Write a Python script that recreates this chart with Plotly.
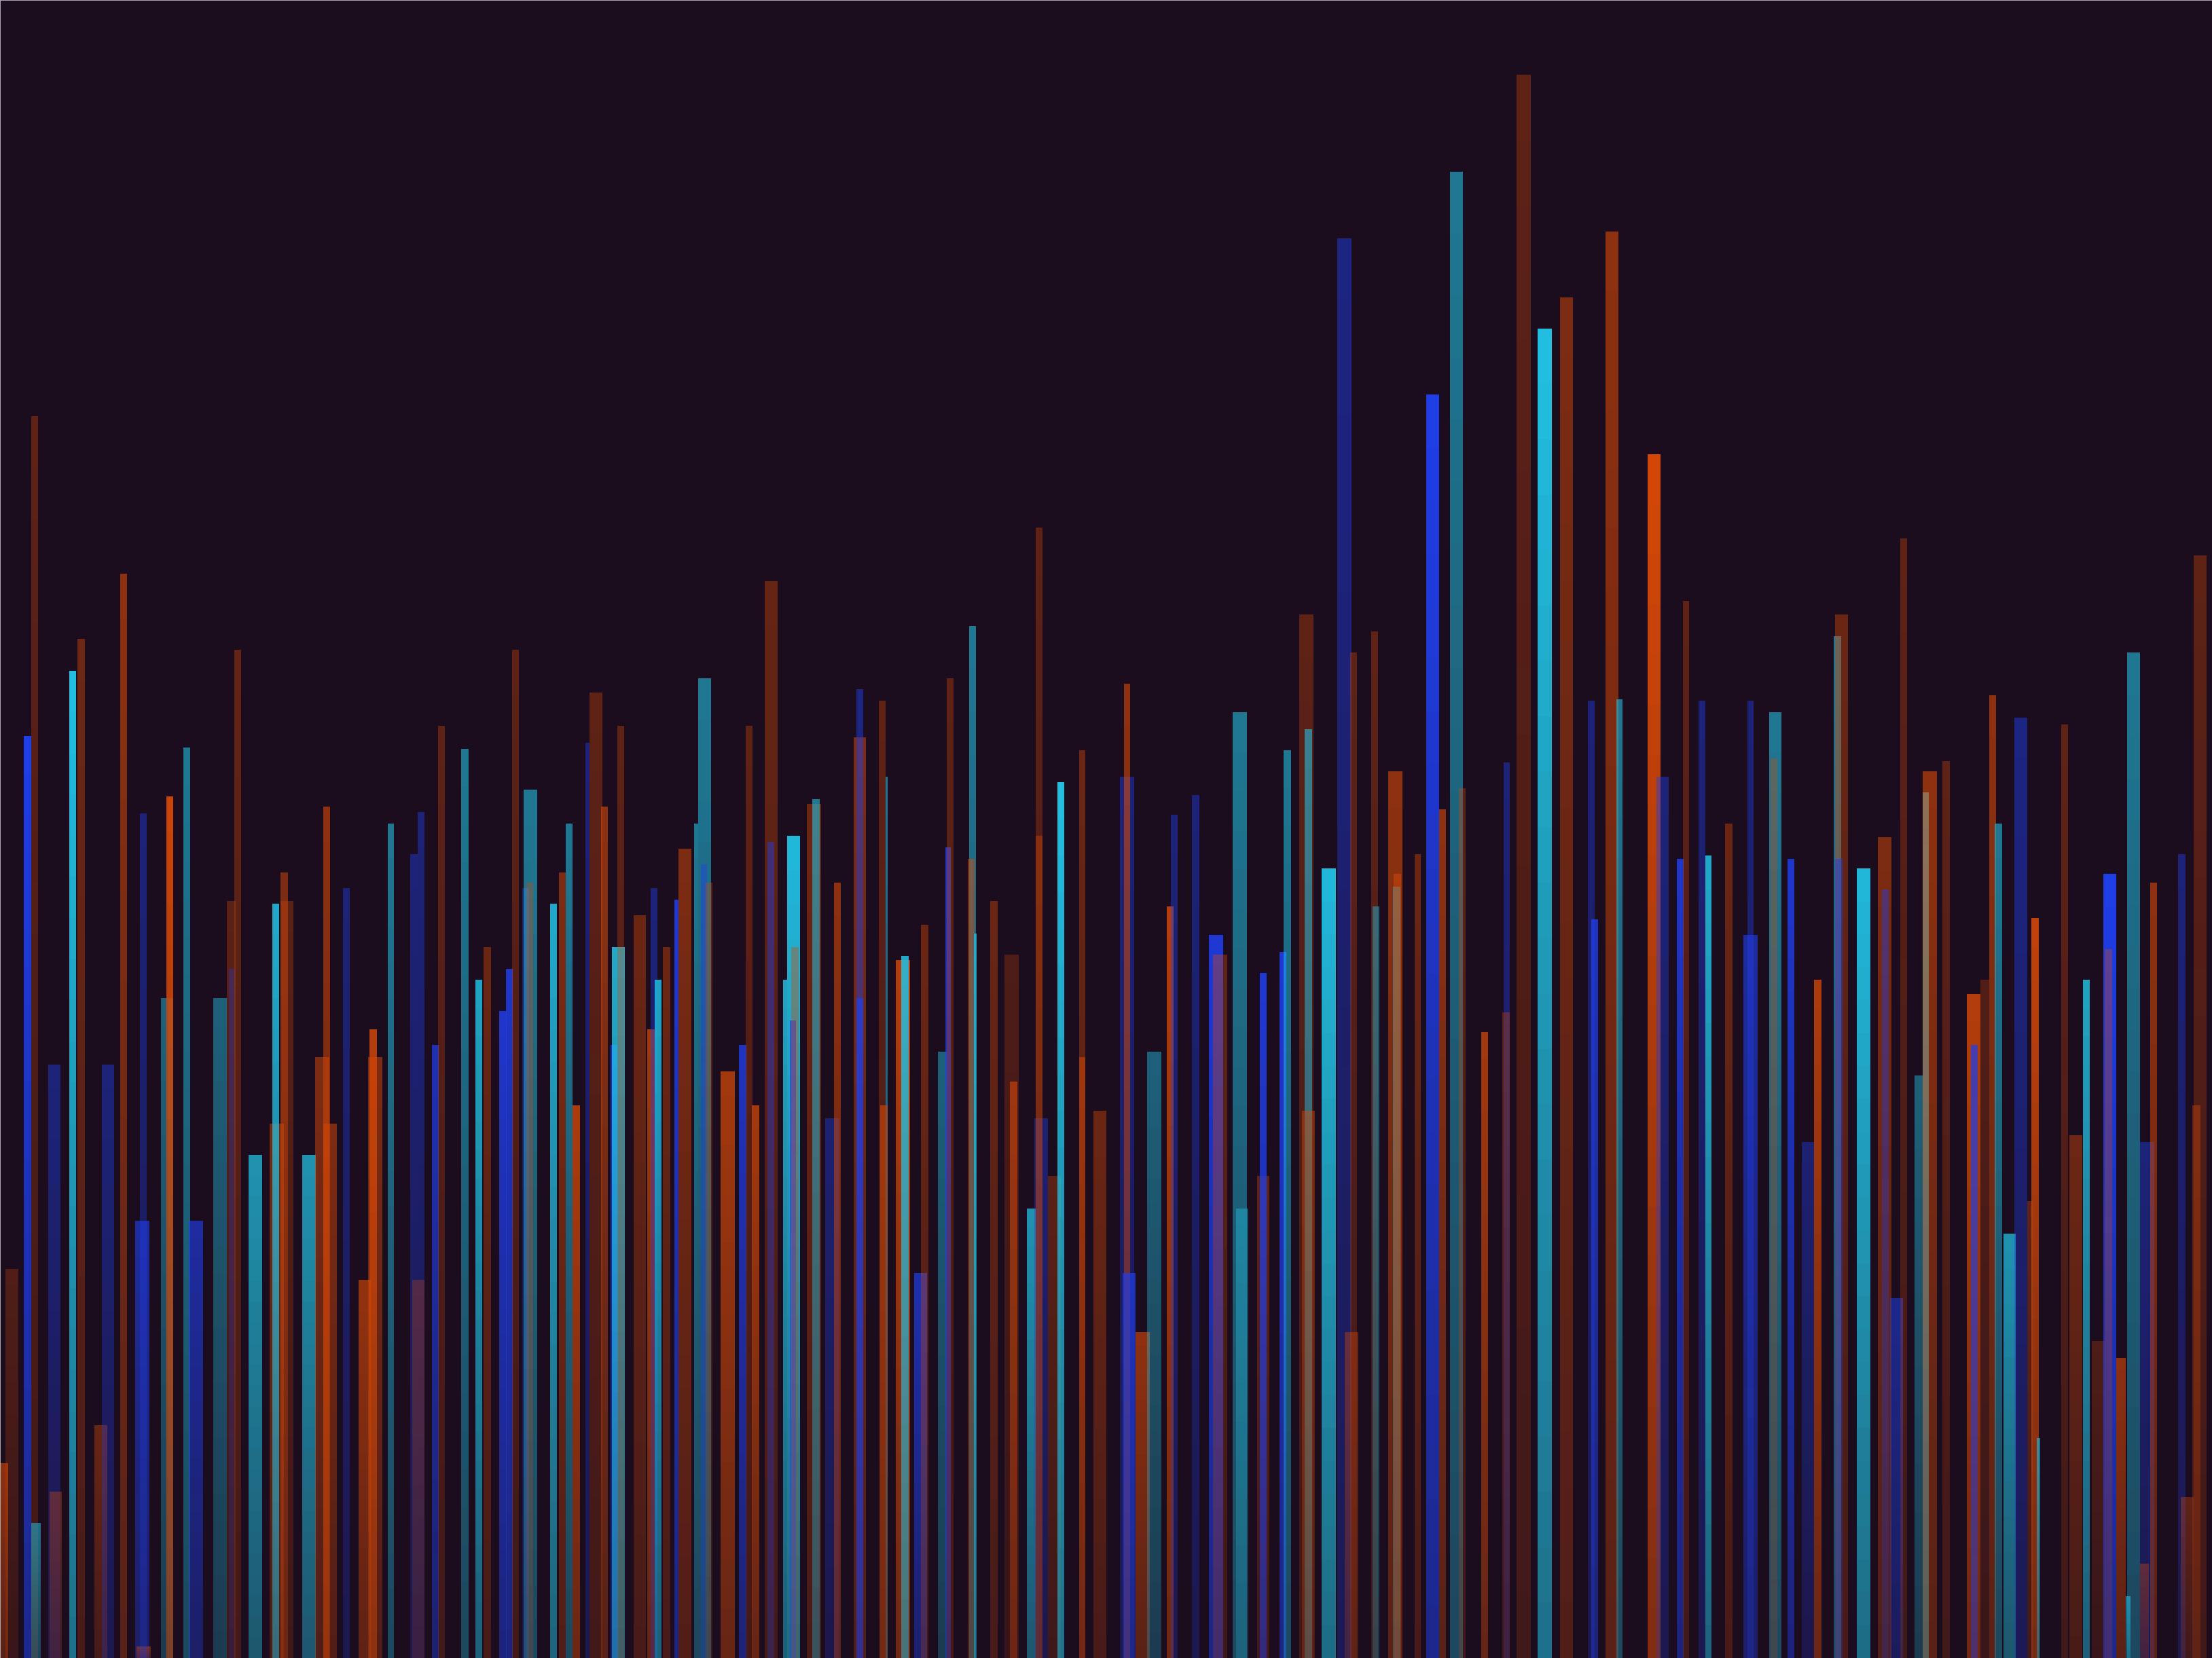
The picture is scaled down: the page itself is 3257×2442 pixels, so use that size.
import plotly.graph_objects as go

# ---- data (x position, bar height, bar width in axis units) ----
bar_x = [3, 8.5, 19.5, 24.5, 25.5, 38.5, 39.5, 51.5, 57.5, 71.5,
         76.5, 87.5, 101, 102, 101.5, 118.5, 120.5, 132.5, 139, 156,
         164, 164, 168.5, 181, 196, 195.5, 201.5, 203.5, 219, 228.5,
         231.5, 234, 245.5, 258.5, 264.5, 266, 277, 293.5, 298.5, 296.5,
         308.5, 313, 329.5, 339.5, 345.5, 356.5, 361, 365.5, 372.5, 376,
         375.5, 392.5, 398.5, 403.5, 408.5, 416.5, 422.5, 428.5, 435.5, 438.5,
         440, 453.5, 461.5, 463.5, 466.5, 472.5, 479.5, 485.5, 493.5, 499.5,
         499, 502.5, 516, 526.5, 531, 535.5, 546.5, 546.5, 556.5, 562.5,
         562, 563.5, 577, 578.5, 590, 593.5, 609.5, 609.5, 609.5, 625.5,
         628.3, 626.5, 640, 641.5, 652.5, 655.5, 668, 672, 673.5, 689.5,
         688.5, 691.3, 704.5, 717, 718.5, 731, 738, 736.5, 736.5, 747.5,
         752, 767, 767, 779.5, 799, 799, 800.5, 810, 818, 829.5,
         832.5, 847.5, 862, 865, 879, 880.5, 895.5, 895.5, 909.5, 912.5,
         926, 927.5, 927.5, 942, 953, 959.5, 958, 974.5, 975.5, 989,
         990, 990.5, 1005, 1015.5, 1022.5, 1032.5, 1036.5, 1052.5, 1068, 1067.5,
         1080, 1095, 1110.5, 1128, 1130.5, 1142.5, 1148, 1172.5, 1178.5, 1191,
         1195, 1206.5, 1211, 1225.5, 1241, 1241, 1258.5, 1257.5, 1269.5, 1281.5,
         1288.5, 1302.5, 1305.5, 1303.5, 1321, 1336, 1336.5, 1344.5, 1349.5, 1360,
         1365, 1368, 1379.5, 1399, 1399.5, 1407, 1412.5, 1416.5, 1424.5, 1432.5,
         1439, 1442.5, 1445, 1463.5, 1471.5, 1479, 1487.5, 1495.5, 1494.5, 1503.5,
         1508.5, 1512.5, 1522, 1520, 1526.5, 1546.5, 1550.5, 1557, 1559.5]

bar_height = [138, 276, 654, 881, 96, 421, 118, 700, 723, 165,
              421, 769, 310, 8, 599, 468, 611, 646, 310, 468,
              537, 489, 715, 357, 379, 535, 557, 537, 357, 426,
              604, 379, 546, 268, 446, 426, 592, 570, 600, 268,
              435, 661, 645, 481, 504, 459, 489, 715, 546, 616,
              550, 535, 557, 592, 392, 649, 685, 604, 435, 504,
              661, 527, 446, 546, 481, 504, 538, 574, 592, 695,
              563, 550, 416, 435, 661, 392, 764, 579, 481, 583,
              452, 504, 606, 609, 383, 550, 653, 687, 468, 679,
              625, 392, 495, 498, 273, 520, 430, 575, 695, 732,
              567, 514, 537, 499, 409, 319, 383, 802, 583, 342,
              621, 644, 426, 388, 625, 691, 273, 231, 430, 533,
              598, 612, 513, 499, 671, 319, 342, 486, 501, 644,
              740, 659, 388, 560, 1007, 713, 231, 728, 533, 629,
              547, 556, 570, 896, 602, 1054, 617, 444, 635, 458,
              1123, 943, 965, 679, 524, 1012, 680, 854, 625, 567,
              750, 679, 569, 592, 513, 679, 671, 638, 567, 366,
              481, 725, 740, 567, 560, 582, 545, 255, 794, 413,
              614, 629, 636, 471, 435, 481, 683, 592, 301, 667,
              324, 525, 156, 662, 371, 481, 225, 556, 503, 213,
              44, 713, 366, 67, 550, 570, 114, 392, 782]

bar_width = [6, 9, 5, 5, 7, 9, 9, 5, 5, 9,
             9, 5, 10, 10, 5, 9, 5, 5, 10, 10,
             6, 4, 5, 10, 10, 5, 5, 9, 10, 10,
             5, 10, 5, 9, 5, 10, 4.5, 5, 5, 9,
             5, 4.5, 5, 5, 5, 5, 4.5, 5, 5, 10,
             5, 5, 5, 5, 5, 3, 9, 5, 5, 9,
             4.5, 9, 5, 5, 5, 5, 3, 9, 3, 9,
             4, 5, 10, 5, 4.5, 5, 9, 5, 3, 9,
             4, 5, 10, 5, 10, 5, 9, 5, 5, 5,
             1.5, 5, 10, 5, 9, 5, 6, 4, 5, 5,
             5, 1.5, 5, 10, 5, 6, 10, 5, 5, 9,
             4.5, 4.5, 4.5, 9, 10, 4.5, 9, 10, 10, 5,
             5, 5, 10, 10, 10, 9, 9, 5, 5, 5,
             10, 5, 9, 10, 10, 5, 10, 5, 5, 10,
             5, 5, 4.5, 9, 5, 9, 5, 5, 4.5, 5,
             10, 10, 9, 4.5, 5, 9, 4.5, 9, 9, 4.5,
             4.5, 5, 4.5, 5, 10, 4.5, 9, 5, 5, 9,
             5, 5, 9, 5, 10, 10, 5, 9, 5, 6,
             4.5, 10, 5, 10, 5, 6, 5, 5, 9, 9,
             4, 5, 2, 5, 9, 4.5, 9, 9, 5, 7,
             3, 9, 10, 6, 5, 5, 9, 6, 9]

# hue family of each bar: O = orange, B = blue, C = cyan
bar_hue = list(
    "OOBOCBOCOO" "BOBOBCOCBC" "OBOCOCOOCO" "OOBOOOCBBO"
    "BOCCOBBOBC" "OCOCOBOOBC" "OOOBCOBOCC" "BOOBOOOBCC"
    "BOOCBOOBBO" "COOCBOCBOC" "OCOOOCBOOO" "COOOBOBOCO"
    "BBBOCCOBBC" "OCOCBOOOCO" "COOBOCOOBO" "OCOBBOCOBB"
    "OBCOBBCOBB" "OCOBCOBBOC" "COOOBOOCCB" "OOCOOCOBOO"
    "CCBOOBOOO"
)
bar_alpha = [.62, .29, 1.0, .37, .55, .45, .37, 1.0, .45, .42,
             .45, .62, .65, .45, .45, .47, .95, .6, .65, .47,
             .35, .3, .4, .75, .5, .88, .53, .35, .75, .53,
             .62, .53, .45, .65, .83, .53, .6, .45, .45, .3,
             .75, .37, .6, .84, .44, .85, .85, .37, .42, .6,
             .35, .88, .53, .6, .79, .45, .37, .62, .8, .88,
             .37, .44, .74, .45, .84, .44, .9, .53, .6, .6,
             .45, .35, .74, .8, .37, .74, .41, .45, .84, .96,
             .7, .4, .44, .6, .42, .62, .53, .5, .75, .37,
             .6, .62, .83, .88, .72, .44, .47, .8, .37, .6,
             .5, .8, .44, .28, .62, .75, .42, .37, .4, .35,
             1.0, .44, .54, .44, .45, .62, .7, .62, .47, .83,
             .45, .45, .9, .37, .6, .4, .37, .9, .9, .6,
             .37, .6, .45, .96, .5, .37, .4, .37, .45, .62,
             .5, .5, .44, 1.0, .62, .6, .35, .74, .45, .35,
             .37, 1.0, .53, .45, .8, .62, .6, 1.0, .45, .85,
             .37, .45, .88, .44, .65, .45, .6, .35, .85, .42,
             .79, .6, .44, .5, .96, .53, .45, .55, .37, .47,
             .92, .62, .37, .83, .75, .3, .62, .6, .75, .5,
             .37, .9, .6, .37, .45, .84, .28, 1.0, .35, .62,
             .6, .6, .45, .37, .62, .45, .37, .4, .37]

# ---- styling ----
HUES = {"O": (212, 72, 8), "B": (32, 62, 232), "C": (34, 192, 226)}
BG = "#1b0d1e"
N_SEG = 24          # vertical gradient steps per bar
BOTTOM_FADE = 0.55  # opacity factor at bar foot relative to its top

fig = go.Figure()
for x, h, w, hue, a in zip(bar_x, bar_height, bar_width, bar_hue, bar_alpha):
    r, g, b = HUES[hue]
    colors = []
    for k in range(N_SEG):
        f = (k + 0.5) / N_SEG
        al = a * (BOTTOM_FADE + (1 - BOTTOM_FADE) * f)
        colors.append(f"rgba({r},{g},{b},{al:.3f})")
    fig.add_trace(go.Bar(
        x=[x] * N_SEG,
        y=[h / N_SEG] * N_SEG,
        base=[h * k / N_SEG for k in range(N_SEG)],
        width=[w] * N_SEG,
        marker=dict(color=colors, line=dict(width=0)),
        hoverinfo="skip",
        showlegend=False,
    ))

fig.update_layout(
    width=3257, height=2442,
    margin=dict(l=0, r=0, t=0, b=0, pad=0),
    paper_bgcolor=BG, plot_bgcolor=BG,
    barmode="overlay",
    bargap=0, bargroupgap=0,   # lets plotly snap bar edges to whole pixels
    showlegend=False,
    xaxis=dict(range=[0, 1568], visible=False, fixedrange=True),
    yaxis=dict(range=[0, 1176], visible=False, fixedrange=True),
    shapes=[
        dict(type="line", xref="paper", yref="paper", x0=0, x1=1, y0=1, y1=1,
             line=dict(color="#a8a6ac", width=2)),
        dict(type="line", xref="paper", yref="paper", x0=0, x1=0, y0=0, y1=1,
             line=dict(color="#a8a6ac", width=2)),
    ],
)

fig.write_html(
    "out.html",
    config={"displayModeBar": False},
    post_script="document.body.style.margin='0';document.body.style.overflow='hidden';",
)
